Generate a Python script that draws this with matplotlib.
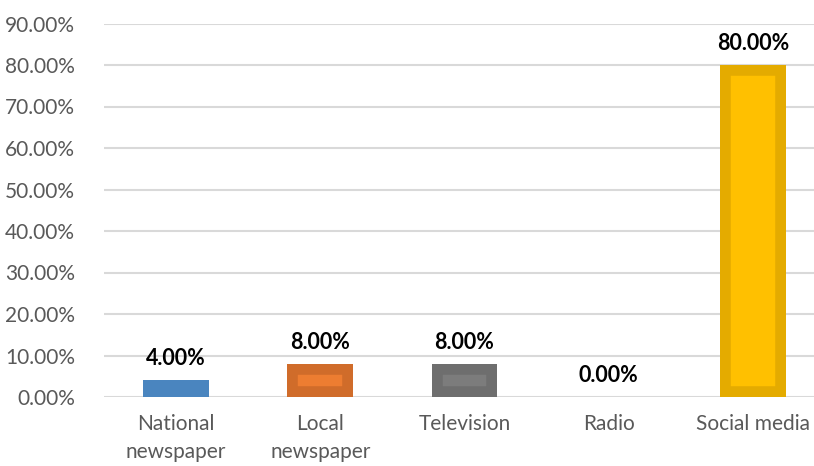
import matplotlib
matplotlib.use("Agg")
import matplotlib.pyplot as plt
from matplotlib.ticker import FuncFormatter

# Dados do gráfico
categorias = ["National\nnewspaper", "Local\nnewspaper", "Television", "Radio", "Social media"]
valores = [0.04, 0.08, 0.08, 0.00, 0.80]
cores_borda = ["#4A85BF", "#D06C2A", "#6E6E6E", "#A0A0A0", "#E4AB00"]
cores_preench = ["#5B9BD5", "#ED7D31", "#7C7C7C", "#A5A5A5", "#FFC000"]

plt.rcParams["font.family"] = ["Lato", "DejaVu Sans"]

fig = plt.figure(figsize=(8.14, 4.66), dpi=100)
ax = fig.add_axes([104 / 814, 69 / 466, 721 / 814, 373.5 / 466])

x = range(len(categorias))
barras = ax.bar(x, valores, width=0.457, color=cores_preench,
                edgecolor=cores_borda, linewidth=15.5, zorder=3)
# borda grossa só por dentro da barra
for b in barras:
    b.set_clip_path(b)

# Rótulos de valor
for xi, v in zip(x, valores):
    ax.annotate(f"{v * 100:.2f}%", (xi, v), xytext=(0, 8), textcoords="offset points",
                ha="center", va="bottom", fontsize=15.5, fontweight="bold", color="black")

ax.set_xlim(-0.5, 4.5)
ax.set_ylim(0, 0.9)
ax.set_yticks([i / 10 for i in range(10)])
ax.yaxis.set_major_formatter(FuncFormatter(lambda v, p: f"{v * 100:.2f}%"))
ax.set_xticks(list(x))
ax.set_xticklabels(categorias, linespacing=1.55)

ax.tick_params(axis="both", length=0, labelsize=15, labelcolor="#595959")
ax.tick_params(axis="y", pad=21)
ax.tick_params(axis="x", pad=12)
ax.grid(axis="y", color="#D9D9D9", linewidth=1.5, zorder=0)
for s in ax.spines.values():
    s.set_visible(False)

plt.savefig("out.png", dpi=100)
